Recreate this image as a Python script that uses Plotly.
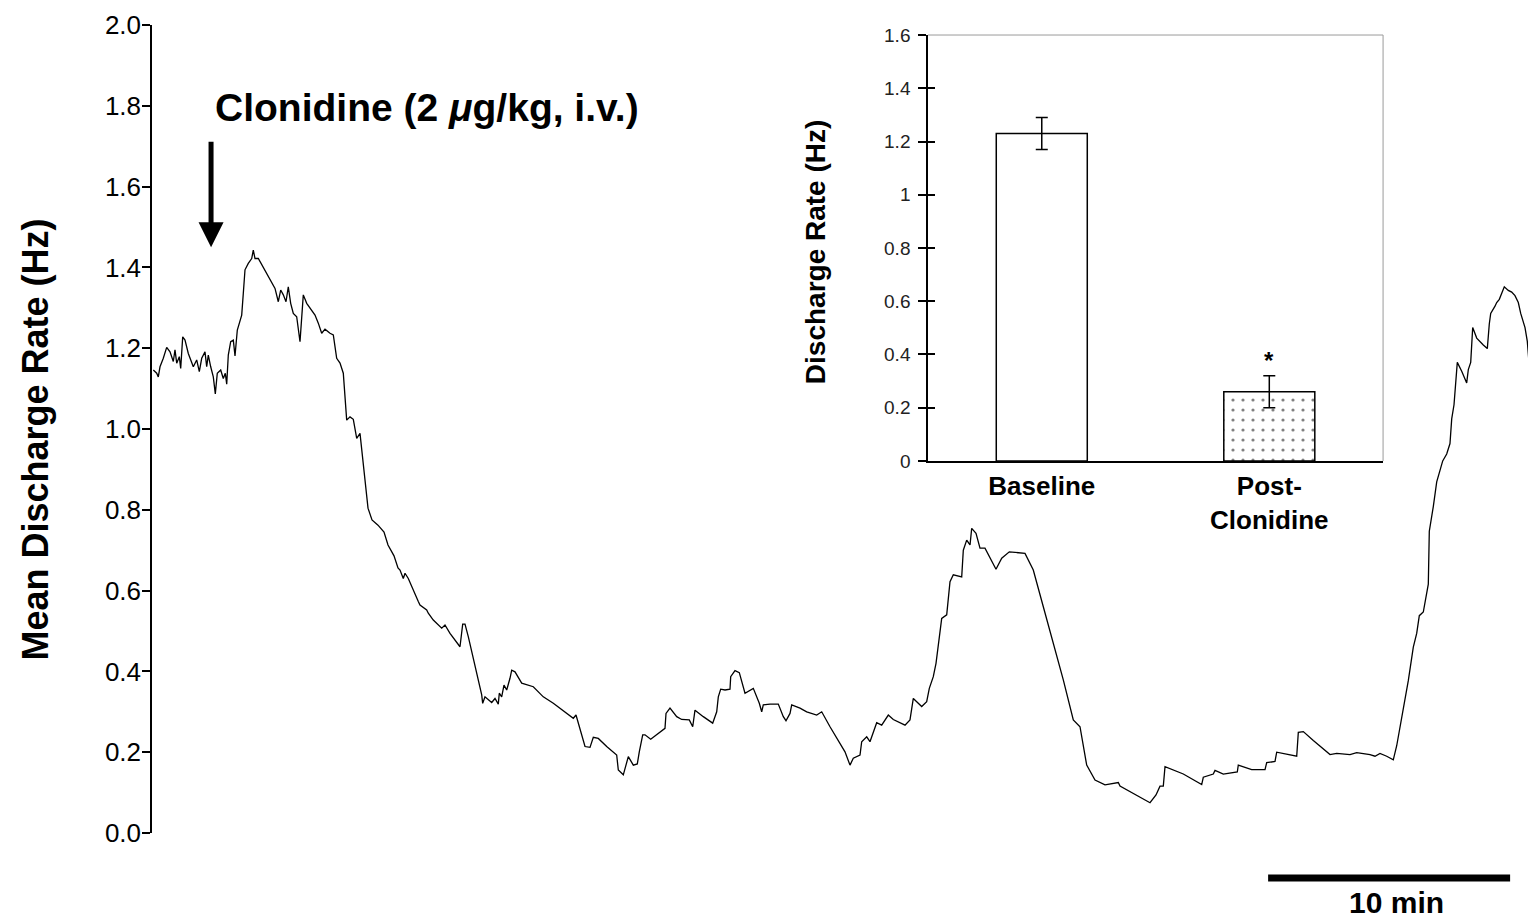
import plotly.graph_objects as go

FONT = "Liberation Sans, Arial, Helvetica, sans-serif"

# ---------------- main trace: time (min) vs mean discharge rate (Hz) ----------------
time_min = [
    0.054, 0.194, 0.260, 0.331, 0.467, 0.607, 0.744, 0.880, 0.950, 1.021,
    1.128, 1.186, 1.269, 1.364, 1.500, 1.707, 1.847, 1.955, 2.054, 2.190,
    2.260, 2.326, 2.426, 2.533, 2.616, 2.698, 2.839, 2.946, 3.029, 3.087,
    3.153, 3.252, 3.360, 3.430, 3.525, 3.636, 3.707, 3.773, 3.843, 3.979,
    4.120, 4.186, 4.256, 4.393, 4.740, 5.083, 5.219, 5.318, 5.426, 5.537,
    5.632, 5.731, 5.839, 5.979, 6.116, 6.186, 6.252, 6.393, 6.599, 6.736,
    6.872, 7.012, 7.149, 7.355, 7.492, 7.632, 7.769, 7.905, 8.045, 8.182,
    8.318, 8.459, 8.595, 8.665, 8.802,
    8.926, 9.091, 9.339, 9.587, 9.752, 10.0, 10.165,
    10.248, 10.384, 10.455, 10.591, 11.004, 11.074, 11.351, 11.417, 11.624, 11.764,
    11.971, 12.107, 12.314, 12.727, 12.839, 12.934, 13.070,
    13.624, 13.665, 13.760, 14.037, 14.174, 14.310, 14.351, 14.450, 14.545, 14.657,
    14.793, 14.864, 15.0, 15.277, 15.756, 16.169, 16.583, 17.136, 17.409, 17.521,
    17.756, 17.893, 18.099, 18.236, 18.442, 18.789, 19.202, 19.269, 19.475, 19.682,
    19.889, 20.054, 20.136, 20.277, 20.372, 20.607, 21.198, 21.240, 21.405, 21.682,
    21.888, 22.202, 22.343, 22.438, 22.781, 23.169, 23.335, 23.401, 23.500, 23.678,
    23.884, 23.913, 24.091, 24.269, 24.504, 24.847, 25.095, 25.194, 25.260, 25.537,
    25.880, 26.087, 26.198, 26.364, 26.434, 26.777,
    27.054, 27.467, 27.674, 28.017, 28.636, 28.843, 28.979, 29.256, 29.326, 29.533,
    29.669, 29.946, 30.153, 30.426, 30.632, 31.116, 31.322, 31.459, 31.806, 32.012,
    32.120, 32.285, 32.397, 32.562, 32.632, 32.839, 32.975, 33.112, 33.459, 33.525,
    33.665, 33.802, 33.872, 34.050, 34.215, 34.421, 34.876, 35.112, 35.426, 36.074,
    36.417, 36.831, 37.657, 38.070, 38.347, 38.624, 38.967, 39.380, 39.587, 39.930,
    40.0, 40.413, 40.826, 41.240,
    41.488, 41.653, 41.789, 41.860, 42.616, 43.376, 43.442, 43.855, 43.926, 44.269,
    44.847, 44.888, 45.442, 45.992, 46.062, 46.405, 46.475, 46.955, 47.302, 47.368,
    47.575, 47.988, 48.401, 48.678, 48.955, 49.504, 49.781, 50.331, 50.537, 50.744,
    51.021, 51.293, 51.434, 51.570, 51.777, 51.913, 52.120, 52.260, 52.368, 52.533,
    52.740, 52.781, 52.946, 53.087, 53.335, 53.500, 53.636, 53.707, 53.802, 53.913,
    53.938, 54.120, 54.326, 54.393, 54.492, 54.574, 54.740, 55.012, 55.178, 55.260,
    55.318, 55.496, 55.566, 55.674, 55.773, 55.880, 56.045, 56.186, 56.322, 56.459,
    56.558, 56.736, 56.831, 56.901,
]

rate_hz = [
    1.146, 1.138, 1.129, 1.154, 1.175, 1.202, 1.191, 1.167, 1.196, 1.163,
    1.179, 1.150, 1.228, 1.220, 1.187, 1.154, 1.171, 1.142, 1.175, 1.191,
    1.154, 1.183, 1.154, 1.129, 1.087, 1.138, 1.146, 1.125, 1.138, 1.111,
    1.183, 1.216, 1.220, 1.181, 1.245, 1.270, 1.282, 1.336, 1.394, 1.410,
    1.422, 1.443, 1.422, 1.422, 1.385, 1.348, 1.315, 1.344, 1.332, 1.315,
    1.352, 1.311, 1.286, 1.278, 1.216, 1.282, 1.332, 1.311, 1.295, 1.282,
    1.262, 1.237, 1.247, 1.237, 1.233, 1.175, 1.163, 1.138, 1.022, 1.030,
    1.024, 0.977, 0.989, 0.948, 0.878,
    0.804, 0.775, 0.762, 0.745, 0.713, 0.686, 0.656,
    0.651, 0.630, 0.643, 0.630, 0.573, 0.564, 0.552, 0.544, 0.527, 0.519,
    0.507, 0.515, 0.494, 0.461, 0.517, 0.517, 0.486,
    0.342, 0.321, 0.337, 0.323, 0.333, 0.319, 0.346, 0.337, 0.366, 0.354,
    0.383, 0.403, 0.399, 0.371, 0.362, 0.337, 0.321, 0.296, 0.284, 0.292,
    0.243, 0.214, 0.212, 0.237, 0.234, 0.214, 0.193, 0.156, 0.144, 0.189,
    0.168, 0.171, 0.201, 0.243, 0.243, 0.232, 0.259, 0.296, 0.309, 0.288,
    0.281, 0.280, 0.263, 0.304, 0.288, 0.272, 0.300, 0.337, 0.356, 0.354,
    0.356, 0.387, 0.402, 0.397, 0.346, 0.358, 0.321, 0.300, 0.317, 0.319,
    0.319, 0.288, 0.278, 0.296, 0.317, 0.309,
    0.300, 0.292, 0.300, 0.263, 0.201, 0.168, 0.185, 0.193, 0.226, 0.238,
    0.226, 0.273, 0.267, 0.292, 0.281, 0.267, 0.280, 0.333, 0.313, 0.325,
    0.358, 0.387, 0.420, 0.507, 0.531, 0.540, 0.622, 0.639, 0.634, 0.700,
    0.725, 0.713, 0.754, 0.742, 0.705, 0.705, 0.653, 0.680, 0.696, 0.692,
    0.651, 0.560, 0.379, 0.280, 0.263, 0.168, 0.131, 0.119, 0.121, 0.125,
    0.116, 0.102, 0.090, 0.075,
    0.094, 0.116, 0.116, 0.164, 0.146, 0.120, 0.138, 0.146, 0.155, 0.146,
    0.151, 0.168, 0.157, 0.157, 0.174, 0.177, 0.200, 0.194, 0.190, 0.249,
    0.251, 0.229, 0.207, 0.194, 0.197, 0.194, 0.199, 0.194, 0.190, 0.197,
    0.190, 0.181, 0.216, 0.259, 0.325, 0.377, 0.460, 0.494, 0.538, 0.547,
    0.616, 0.747, 0.808, 0.869, 0.921, 0.938, 0.964, 1.025, 1.060, 1.130,
    1.165, 1.143, 1.114, 1.147, 1.165, 1.251, 1.225, 1.208, 1.199, 1.260,
    1.286, 1.304, 1.313, 1.321, 1.334, 1.352, 1.343, 1.339, 1.330, 1.313,
    1.286, 1.251, 1.217, 1.165,
]
assert len(time_min) == len(rate_hz)

main_y_ticks = [0.0, 0.2, 0.4, 0.6, 0.8, 1.0, 1.2, 1.4, 1.6, 1.8, 2.0]
main_x_range = [0, 57.19]          # minutes shown
injection_time = 2.44              # min (arrow position)
injection_tip_rate = 1.45          # Hz (arrow tip level)
scale_bar_start = 46.12            # min
scale_bar_length = 10              # min

# ---------------- inset bar chart ----------------
inset_categories = ["Baseline", "Post-<br>Clonidine"]
inset_means = [1.23, 0.26]
inset_errors = [0.06, 0.06]
inset_patterns = ["", "."]
inset_ticks = [0, 0.2, 0.4, 0.6, 0.8, 1.0, 1.2, 1.4, 1.6]
inset_tick_labels = ["0", "0.2", "0.4", "0.6", "0.8", "1", "1.2", "1.4", "1.6"]

fig = go.Figure()

fig.add_trace(go.Scatter(
    x=time_min, y=rate_hz, mode="lines",
    line=dict(color="black", width=1.3),
    xaxis="x", yaxis="y", showlegend=False, hoverinfo="skip",
))

fig.add_trace(go.Bar(
    x=inset_categories, y=inset_means, width=0.4,
    marker=dict(
        color="white",
        line=dict(color="black", width=1.5),
        pattern=dict(shape=inset_patterns, fgcolor="black", bgcolor="white",
                     size=10, solidity=0.08),
    ),
    error_y=dict(type="data", array=inset_errors, color="black",
                 thickness=1.5, width=6),
    xaxis="x2", yaxis="y2", showlegend=False, hoverinfo="skip",
))

# invisible trace so the overlay axis (inner ticks) is drawn
fig.add_trace(go.Scatter(
    x=[inset_categories[0]], y=[None], mode="markers",
    xaxis="x2", yaxis="y3", showlegend=False, hoverinfo="skip",
))

# page body has an 8px margin: figure is 8px smaller and margins offset by 8px
fig.update_layout(
    width=1528, height=911,
    margin=dict(l=144, r=0, t=17, b=86),
    paper_bgcolor="white", plot_bgcolor="rgba(0,0,0,0)",
    font=dict(family=FONT, color="black"),
    xaxis=dict(domain=[0, 1], range=main_x_range, visible=False, anchor="y"),
    yaxis=dict(
        domain=[0, 1], range=[0, 2.0], anchor="x",
        tickvals=main_y_ticks, tickformat=".1f",
        ticks="outside", ticklen=8, tickwidth=1.5, tickcolor="black",
        showline=True, linewidth=1.5, linecolor="black",
        showgrid=False, zeroline=False, automargin=False,
        tickfont=dict(size=26, family=FONT, color="black"),
        ticklabelstandoff=-4,
    ),
    xaxis2=dict(
        domain=[0.5607, 0.8895], anchor="y2", type="category",
        range=[-0.5, 1.5], showline=True, linewidth=1.5, linecolor="black",
        ticks="", showgrid=False, zeroline=False, automargin=False,
        tickfont=dict(size=26, family=FONT, color="black", weight="bold"),
        ticklabelstandoff=1,
    ),
    yaxis2=dict(
        domain=[0.4604, 0.9876], anchor="x2", range=[0, 1.6],
        tickvals=inset_ticks, ticktext=inset_tick_labels,
        ticks="outside", ticklen=8, tickwidth=1.5, tickcolor="black",
        showline=True, linewidth=1.5, linecolor="black",
        showgrid=False, zeroline=False, automargin=False,
        tickfont=dict(size=19, family=FONT, color="#222"),
        ticklabelstandoff=4,
    ),
    yaxis3=dict(
        overlaying="y2", anchor="x2", range=[0, 1.6],
        tickvals=inset_ticks, ticks="inside", ticklen=7, tickwidth=1.5,
        tickcolor="black", showticklabels=False, showline=False,
        showgrid=False, zeroline=False,
    ),
)

# inset frame: top and right borders in grey
fig.add_shape(type="line", xref="x2 domain", yref="y2 domain",
              x0=0, x1=1, y0=1, y1=1, line=dict(color="#9a9a9a", width=1))
fig.add_shape(type="line", xref="x2 domain", yref="y2 domain",
              x0=1, x1=1, y0=0, y1=1, line=dict(color="#9a9a9a", width=1))

# 10-min scale bar
fig.add_shape(type="line", xref="x", yref="paper",
              x0=scale_bar_start, x1=scale_bar_start + scale_bar_length,
              y0=-0.0557, y1=-0.0557, line=dict(color="black", width=7))

annotations = [
    dict(text="10 min", xref="x", yref="paper",
         x=scale_bar_start + scale_bar_length / 2 + 0.3, y=-0.0855,
         xanchor="center", yanchor="middle", showarrow=False,
         font=dict(size=30, family=FONT, color="black", weight="bold")),
    dict(text="Clonidine (2 <i>μ</i>g/kg, i.v.)", xref="paper", yref="paper",
         x=0.0441, y=0.8985, xanchor="left", yanchor="middle", showarrow=False,
         font=dict(size=39, family=FONT, color="black", weight="bold")),
    dict(text="", xref="x", yref="y", x=injection_time, y=injection_tip_rate,
         showarrow=True, arrowhead=2, arrowwidth=5, arrowsize=1,
         arrowcolor="black", ax=0, ay=-107, standoff=0),
    dict(text="Mean Discharge Rate (Hz)", xref="paper", yref="paper",
         x=-0.0845, y=0.487, xanchor="center", yanchor="middle",
         textangle=-90, showarrow=False,
         font=dict(size=36, family=FONT, color="black", weight="bold")),
    dict(text="Discharge Rate (Hz)", xref="paper", yref="paper",
         x=0.479, y=0.720, xanchor="center", yanchor="middle",
         textangle=-90, showarrow=False,
         font=dict(size=28, family=FONT, color="black", weight="bold")),
    dict(text="*", xref="x2", yref="y2",
         x=inset_categories[1], y=inset_means[1] + inset_errors[1],
         xanchor="center", yanchor="bottom", showarrow=False,
         font=dict(size=24, family=FONT, color="black", weight="bold")),
]
fig.update_layout(annotations=annotations)

fig.write_html("out.html")
